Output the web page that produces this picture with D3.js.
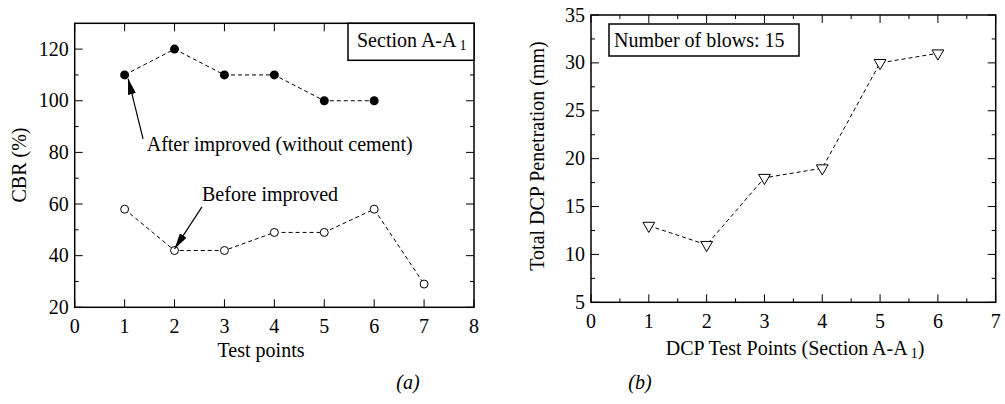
<!DOCTYPE html>
<html>
<head>
<meta charset="utf-8">
<script src="https://cdn.jsdelivr.net/npm/d3@7"></script>
<style>
  html, body { margin: 0; padding: 0; background: #fff; }
  svg { display: block; }
  text { font-family: "Liberation Serif", "Times New Roman", serif; fill: #000; }
</style>
</head>
<body>
<svg id="chart" width="1005" height="404"></svg>
<script>
// ---- Panel (a): CBR at test points, section A-A1 ----
const testPoints = [1, 2, 3, 4, 5, 6, 7];
const cbrAfter = [110, 120, 110, 110, 100, 100];      // after improvement (without cement)
const cbrBefore = [58, 42, 42, 49, 49, 58, 29];       // before improvement
const xTicksA = [0, 1, 2, 3, 4, 5, 6, 7, 8];
const yTicksA = [20, 40, 60, 80, 100, 120];

// ---- Panel (b): total DCP penetration ----
const dcpPoints = [1, 2, 3, 4, 5, 6];
const dcpPenetration = [13, 11, 18, 19, 30, 31];
const xTicksB = [0, 1, 2, 3, 4, 5, 6, 7];
const yTicksB = [5, 10, 15, 20, 25, 30, 35];

const svg = d3.select("#chart");
const FS = 20;
const SUB = 14;

function panel(opt) {
  const g = svg.append("g");
  const x = d3.scaleLinear().domain(opt.xDomain).range([opt.left, opt.right]);
  const y = d3.scaleLinear().domain(opt.yDomain).range([opt.bottom, opt.top]);

  // frame
  g.append("rect")
    .attr("x", opt.left).attr("y", opt.top)
    .attr("width", opt.right - opt.left).attr("height", opt.bottom - opt.top)
    .attr("fill", "none").attr("stroke", "#000").attr("stroke-width", 1.5);

  const major = 8, minor = 4;
  const ticks = g.append("g").attr("stroke", "#000").attr("stroke-width", 1);
  // x ticks (inward, bottom and top)
  opt.xMajor.forEach(v => {
    ticks.append("line").attr("x1", x(v)).attr("x2", x(v)).attr("y1", opt.bottom).attr("y2", opt.bottom - major);
    ticks.append("line").attr("x1", x(v)).attr("x2", x(v)).attr("y1", opt.top).attr("y2", opt.top + major);
  });
  opt.xMinor.forEach(v => {
    ticks.append("line").attr("x1", x(v)).attr("x2", x(v)).attr("y1", opt.bottom).attr("y2", opt.bottom - minor);
    ticks.append("line").attr("x1", x(v)).attr("x2", x(v)).attr("y1", opt.top).attr("y2", opt.top + minor);
  });
  // y ticks (inward, left and right)
  opt.yMajor.forEach(v => {
    ticks.append("line").attr("y1", y(v)).attr("y2", y(v)).attr("x1", opt.left).attr("x2", opt.left + major);
    ticks.append("line").attr("y1", y(v)).attr("y2", y(v)).attr("x1", opt.right).attr("x2", opt.right - major);
  });
  opt.yMinor.forEach(v => {
    ticks.append("line").attr("y1", y(v)).attr("y2", y(v)).attr("x1", opt.left).attr("x2", opt.left + minor);
    ticks.append("line").attr("y1", y(v)).attr("y2", y(v)).attr("x1", opt.right).attr("x2", opt.right - minor);
  });

  // tick labels
  g.selectAll(".xl").data(opt.xMajor).join("text")
    .attr("x", d => x(d)).attr("y", opt.bottom + 26)
    .attr("text-anchor", "middle").attr("font-size", FS).text(d => d);
  g.selectAll(".yl").data(opt.yMajor).join("text")
    .attr("x", opt.left - 6).attr("y", d => y(d) + 6.5)
    .attr("text-anchor", "end").attr("font-size", FS).text(d => d);

  return { g, x, y };
}

function dashedLine(p, xs, ys) {
  const line = d3.line().x((d, i) => p.x(xs[i])).y(d => p.y(d));
  p.g.append("path").datum(ys).attr("d", line)
    .attr("fill", "none").attr("stroke", "#000").attr("stroke-width", 1)
    .attr("stroke-dasharray", "4,3");
}

// ---------- Panel (a) ----------
const A = panel({
  xDomain: [0, 8], yDomain: [20, 130],
  left: 74.7, right: 474, top: 23.3, bottom: 307.3,
  xMajor: xTicksA, xMinor: [],
  yMajor: yTicksA, yMinor: [30, 50, 70, 90, 110]
});

dashedLine(A, testPoints, cbrAfter);
dashedLine(A, testPoints, cbrBefore);

A.g.selectAll(".after").data(cbrAfter).join("circle")
  .attr("cx", (d, i) => A.x(testPoints[i])).attr("cy", d => A.y(d))
  .attr("r", 4.5).attr("fill", "#000");
A.g.selectAll(".before").data(cbrBefore).join("circle")
  .attr("cx", (d, i) => A.x(testPoints[i])).attr("cy", d => A.y(d))
  .attr("r", 4).attr("fill", "#fff").attr("stroke", "#000").attr("stroke-width", 1);

// arrowhead
const defs = svg.append("defs");
defs.append("marker").attr("id", "arrow")
  .attr("viewBox", "0 0 16 8").attr("refX", 16).attr("refY", 4)
  .attr("markerWidth", 16).attr("markerHeight", 8)
  .attr("markerUnits", "userSpaceOnUse").attr("orient", "auto")
  .append("path").attr("d", "M0,0 L16,4 L0,8 Z").attr("fill", "#000");

function arrow(p, x1, y1, x2, y2) {
  p.g.append("line")
    .attr("x1", p.x(x1)).attr("y1", p.y(y1)).attr("x2", p.x(x2)).attr("y2", p.y(y2))
    .attr("stroke", "#000").attr("stroke-width", 1.2).attr("marker-end", "url(#arrow)");
}
arrow(A, 1.37, 85.2, 1.07, 108.6);
arrow(A, 2.55, 58.9, 2.0, 42.6);

A.g.append("text").attr("x", 146.7).attr("y", 151).attr("font-size", FS)
  .text("After improved (without cement)");
A.g.append("text").attr("x", 202).attr("y", 201).attr("font-size", FS)
  .text("Before improved");

// section label box
A.g.append("rect").attr("x", 348).attr("y", 23.3).attr("width", 126).attr("height", 37)
  .attr("fill", "#fff").attr("stroke", "#000").attr("stroke-width", 1.5);
const secA = A.g.append("text").attr("x", 357).attr("y", 47).attr("font-size", FS);
secA.append("tspan").text("Section A-A");
secA.append("tspan").attr("font-size", SUB).attr("dx", 3).attr("dy", 3).text("1");

// axis titles
A.g.append("text").attr("x", 261).attr("y", 357).attr("text-anchor", "middle")
  .attr("font-size", FS).text("Test points");
A.g.append("text").attr("transform", "translate(26,165) rotate(-90)")
  .attr("text-anchor", "middle").attr("font-size", FS).text("CBR (%)");

// ---------- Panel (b) ----------
const B = panel({
  xDomain: [0, 7], yDomain: [5, 35],
  left: 591, right: 995.7, top: 15, bottom: 302.3,
  xMajor: xTicksB, xMinor: [0.5, 1.5, 2.5, 3.5, 4.5, 5.5, 6.5],
  yMajor: yTicksB, yMinor: [7.5, 12.5, 17.5, 22.5, 27.5, 32.5]
});

dashedLine(B, dcpPoints, dcpPenetration);

const tri = d3.symbol().type(d3.symbolTriangle).size(60);
B.g.selectAll(".tri").data(dcpPenetration).join("path")
  .attr("d", tri)
  .attr("transform", (d, i) => `translate(${B.x(dcpPoints[i])},${B.y(d)}) rotate(180)`)
  .attr("fill", "#fff").attr("stroke", "#000").attr("stroke-width", 1);

B.g.append("rect").attr("x", 609).attr("y", 24).attr("width", 190).attr("height", 32)
  .attr("fill", "#fff").attr("stroke", "#000").attr("stroke-width", 1.5);
B.g.append("text").attr("x", 614).attr("y", 47).attr("font-size", FS)
  .text("Number of blows: 15");

const xtB = B.g.append("text").attr("x", 795).attr("y", 355).attr("text-anchor", "middle")
  .attr("font-size", FS);
xtB.append("tspan").text("DCP Test Points (Section A-A");
xtB.append("tspan").attr("font-size", SUB).attr("dx", 3).attr("dy", 3).text("1");
xtB.append("tspan").attr("dy", -3).text(")");
B.g.append("text").attr("transform", "translate(544,156) rotate(-90)")
  .attr("text-anchor", "middle").attr("font-size", FS).text("Total DCP Penetration (mm)");

// panel captions
svg.append("text").attr("x", 408).attr("y", 389).attr("text-anchor", "middle")
  .attr("font-size", FS).attr("font-style", "italic").text("(a)");
svg.append("text").attr("x", 640).attr("y", 389).attr("text-anchor", "middle")
  .attr("font-size", FS).attr("font-style", "italic").text("(b)");
</script>
</body>
</html>
